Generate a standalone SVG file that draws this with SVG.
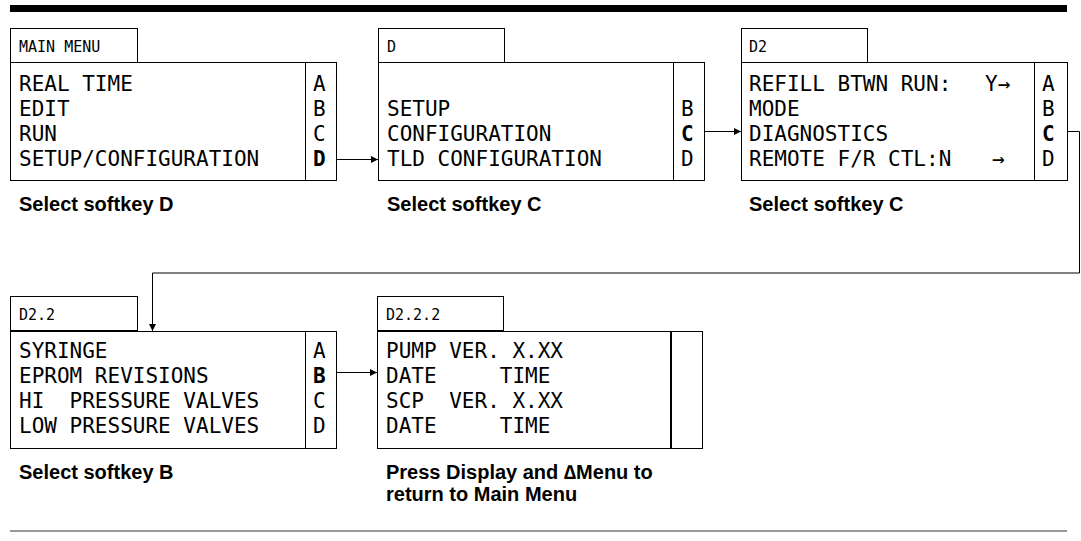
<svg xmlns="http://www.w3.org/2000/svg" width="1081" height="541" viewBox="0 0 1081 541">
<style>
.box{fill:none;stroke:#000;stroke-width:1}
.m{font-family:"DejaVu Sans Mono","Liberation Mono",monospace;font-size:21px;fill:#000;white-space:pre}
.tab{font-family:"DejaVu Sans Mono","Liberation Mono",monospace;font-size:15px;fill:#000;white-space:pre}
.b{font-weight:bold}
.cap{font-family:"Liberation Sans",Arial,sans-serif;font-size:20px;font-weight:bold;fill:#000}
.con{fill:none;stroke:#000;stroke-width:1}
</style>
<defs>
<marker id="ah" markerUnits="userSpaceOnUse" markerWidth="8" markerHeight="8" refX="7" refY="4" orient="auto">
<path d="M0,0.5 L7,4 L0,7.5 z" fill="#000"/>
</marker>
</defs>
<rect x="10" y="5" width="1057" height="7" fill="#000"/>
<line x1="10" y1="531" x2="1067" y2="531" stroke="#333" stroke-width="1"/>

<g id="main-menu">
<rect class="box" x="10.5" y="28.5" width="127" height="34"/>
<rect class="box" x="10.5" y="62.5" width="326" height="118"/>
<line class="box" x1="305.5" y1="62.5" x2="305.5" y2="180.5"/>
<text class="tab" x="19" y="52">MAIN MENU</text>
<text class="m" x="19" y="91">REAL TIME</text>
<text class="m" x="19" y="116">EDIT</text>
<text class="m" x="19" y="141">RUN</text>
<text class="m" x="19" y="166">SETUP/CONFIGURATION</text>
<text class="m" x="313" y="91">A</text>
<text class="m" x="313" y="116">B</text>
<text class="m" x="313" y="141">C</text>
<text class="m b" x="313" y="166">D</text>
<text class="cap" x="19" y="211">Select softkey D</text>
</g>

<g id="menu-d">
<rect class="box" x="378.5" y="28.5" width="126" height="34"/>
<rect class="box" x="378.5" y="62.5" width="326" height="118"/>
<line class="box" x1="673.5" y1="62.5" x2="673.5" y2="180.5"/>
<text class="tab" x="387" y="52">D</text>
<text class="m" x="387" y="116">SETUP</text>
<text class="m" x="387" y="141">CONFIGURATION</text>
<text class="m" x="387" y="166">TLD CONFIGURATION</text>
<text class="m" x="681" y="116">B</text>
<text class="m b" x="681" y="141">C</text>
<text class="m" x="681" y="166">D</text>
<text class="cap" x="387" y="211">Select softkey C</text>
</g>

<g id="menu-d2">
<rect class="box" x="741.5" y="28.5" width="126" height="34"/>
<rect class="box" x="741.5" y="62.5" width="326" height="118"/>
<line class="box" x1="1034.5" y1="62.5" x2="1034.5" y2="180.5"/>
<text class="tab" x="749" y="52">D2</text>
<text class="m" x="749" y="91">REFILL BTWN RUN:</text>
<text class="m" x="985" y="91">Y→</text>
<text class="m" x="749" y="116">MODE</text>
<text class="m" x="749" y="141">DIAGNOSTICS</text>
<text class="m" x="749" y="166">REMOTE F/R CTL:N</text>
<text class="m" x="992" y="166">→</text>
<text class="m" x="1042" y="91">A</text>
<text class="m" x="1042" y="116">B</text>
<text class="m b" x="1042" y="141">C</text>
<text class="m" x="1042" y="166">D</text>
<text class="cap" x="749" y="211">Select softkey C</text>
</g>

<g id="menu-d2-2">
<rect class="box" x="10.5" y="296.5" width="127" height="34"/>
<rect class="box" x="10.5" y="331.5" width="326" height="117"/>
<line class="box" x1="305.5" y1="331.5" x2="305.5" y2="448.5"/>
<text class="tab" x="19" y="320">D2.2</text>
<text class="m" x="19" y="358">SYRINGE</text>
<text class="m" x="19" y="383">EPROM REVISIONS</text>
<text class="m" x="19" y="408">HI  PRESSURE VALVES</text>
<text class="m" x="19" y="433">LOW PRESSURE VALVES</text>
<text class="m" x="313" y="358">A</text>
<text class="m b" x="313" y="383">B</text>
<text class="m" x="313" y="408">C</text>
<text class="m" x="313" y="433">D</text>
<text class="cap" x="19" y="479">Select softkey B</text>
</g>

<g id="menu-d2-2-2">
<rect class="box" x="377.5" y="296.5" width="126" height="34"/>
<rect class="box" x="377.5" y="331.5" width="325" height="117"/>
<line x1="671" y1="331.5" x2="671" y2="448.5" stroke="#000" stroke-width="2"/>
<text class="tab" x="386" y="320">D2.2.2</text>
<text class="m" x="386" y="358">PUMP VER. X.XX</text>
<text class="m" x="386" y="383">DATE     TIME</text>
<text class="m" x="386" y="408">SCP  VER. X.XX</text>
<text class="m" x="386" y="433">DATE     TIME</text>
<text class="cap" x="386" y="479">Press Display and ∆Menu to</text>
<text class="cap" x="386" y="501">return to Main Menu</text>
</g>

<g id="connectors">
<line class="con" x1="336.5" y1="159.5" x2="378" y2="159.5" marker-end="url(#ah)"/>
<line class="con" x1="704.5" y1="131.5" x2="741" y2="131.5" marker-end="url(#ah)"/>
<polyline class="con" points="1067.5,131.5 1079.5,131.5 1079.5,273 152.5,273 152.5,331" marker-end="url(#ah)"/>
<line class="con" x1="336.5" y1="372.5" x2="377" y2="372.5" marker-end="url(#ah)"/>
</g>
</svg>
